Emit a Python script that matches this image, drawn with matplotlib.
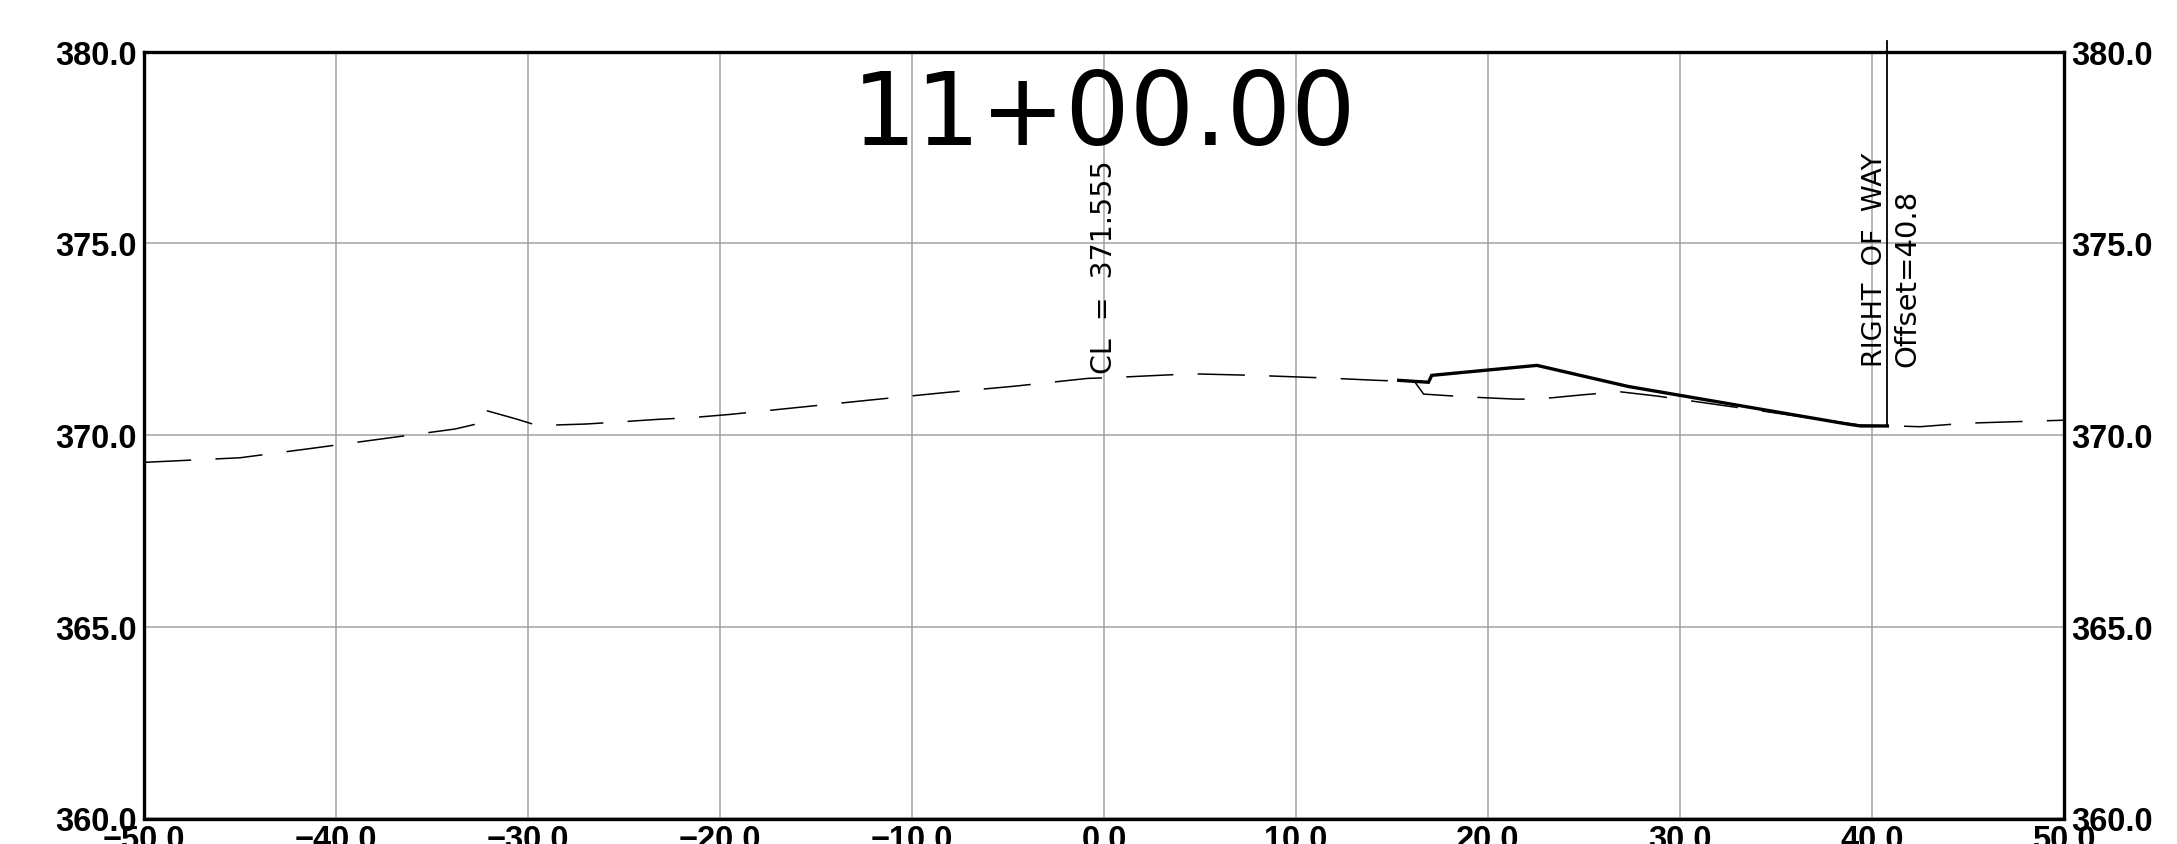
import matplotlib
matplotlib.use("Agg")
import matplotlib.pyplot as plt

# cross section 11+00.00
station = "11+00.00"
cl_label = "CL  =  371.555"
row_label = "RIGHT  OF  WAY"
row_offset_label = "Offset=40.8"
row_offset = 40.8

x_ticks = [-50, -40, -30, -20, -10, 0, 10, 20, 30, 40, 50]
y_ticks = [360, 365, 370, 375, 380]

# existing ground (dashed)
eg_x = [-50.0, -45.0, -41.2, -37.5, -33.8, -32.6, -32.45, -30.6, -29.5, -27.0,
        -25.7, -23.3, -21.4, -19.5, -15.8, -12.1, -8.3, -4.6, -0.86, 0.36,
        2.85, 4.6, 7.8, 11.6, 14.2, 15.4, 16.2, 16.65, 17.0, 18.8, 21.4,
        22.6, 25.1, 26.9, 28.8, 33.85, 39.4, 41.2, 42.5, 44.85, 47.4, 50.0]
eg_y = [369.29, 369.41, 369.66, 369.91, 370.16, 370.30, 370.68, 370.42, 370.25, 370.29,
        370.33, 370.41, 370.46, 370.54, 370.73, 370.92, 371.11, 371.28, 371.48, 371.50,
        371.56, 371.60, 371.56, 371.49, 371.43, 371.41, 371.38, 371.07, 371.06, 371.00, 370.94,
        370.94, 371.06, 371.13, 371.02, 370.66, 370.26, 370.24, 370.22, 370.31, 370.35, 370.39]

# proposed section (solid)
fg_x = [15.35, 16.9, 17.07, 22.55, 27.3, 38.6, 39.4, 40.8]
fg_y = [371.43, 371.38, 371.56, 371.82, 371.27, 370.30, 370.24, 370.24]

# right of way line ends
row_y = [370.24, 380.27]

tick_font = ["Liberation Sans", "DejaVu Sans"]

fig = plt.figure(figsize=(21.77, 8.45), dpi=100)
ax = fig.add_axes([144 / 2177, 1 - 819.5 / 845, (2064 - 144) / 2177, (819.5 - 52.8) / 845])

ax.set_xlim(-50, 50)
ax.set_ylim(360, 380)

ax.set_xticks(x_ticks)
ax.set_xticklabels([f"{v:.1f}".replace("-", "\u2212") for v in x_ticks])
ax.set_yticks(y_ticks)
ax.set_yticklabels([f"{v:.1f}" for v in y_ticks])
ax.tick_params(axis="both", length=0, labelsize=23.5)
ax.tick_params(axis="y", pad=5, labelright=True, right=False)
ax.tick_params(axis="x", pad=4)
for lab in ax.get_xticklabels() + ax.get_yticklabels():
    lab.set_family(tick_font)
    lab.set_fontweight("bold")

ax.grid(True, color="#a3a3a3", linewidth=1.1)
ax.set_axisbelow(True)
for s in ax.spines.values():
    s.set_linewidth(2.4)
    s.set_color("black")

# lines
lw_dash = 1.1
ax.plot(eg_x, eg_y, color="black", linewidth=lw_dash,
        dashes=(34 / lw_dash, 17.5 / lw_dash), zorder=3)
ax.plot(fg_x, fg_y, color="black", linewidth=2.4, zorder=4, solid_joinstyle="miter")
ax.plot([row_offset, row_offset], row_y, color="black", linewidth=1.3,
        clip_on=False, zorder=4)

# text
ax.text(0, 377.6, station, ha="center", va="baseline", fontsize=73,
        family="DejaVu Sans", zorder=5)
ax.text(0, 371.62, cl_label, rotation=90, ha="center", va="bottom",
        fontsize=20.5, family="DejaVu Sans", zorder=5)
ax.text(row_offset + 0.05, 371.8, row_label, rotation=90, ha="right", va="bottom",
        fontsize=19.5, family="DejaVu Sans", zorder=5)
ax.text(row_offset + 0.3, 371.8, row_offset_label, rotation=90, ha="left", va="bottom",
        fontsize=21, family="DejaVu Sans", zorder=5)

fig.savefig("out.png", dpi=100)
